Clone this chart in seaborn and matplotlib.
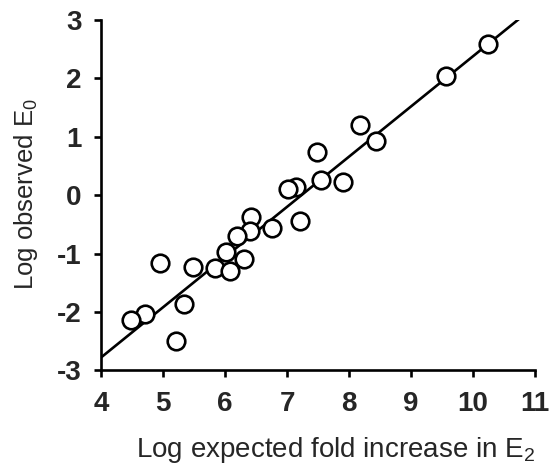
import numpy as np
import pandas as pd
import matplotlib
matplotlib.use("Agg")
import matplotlib.pyplot as plt
import seaborn as sns

# valores
expected_log = [10.24, 9.56, 8.18, 8.44, 7.48, 7.54, 7.90, 7.15, 7.02, 7.20,
                6.41, 6.40, 6.76, 6.19, 6.02, 6.30, 5.84, 6.07, 5.48, 4.95,
                5.33, 4.71, 4.48, 5.21]
observed_log = [2.59, 2.05, 1.20, 0.92, 0.74, 0.26, 0.23, 0.14, 0.10, -0.44,
                -0.38, -0.62, -0.56, -0.70, -0.98, -1.09, -1.24, -1.30, -1.23, -1.17,
                -1.87, -2.04, -2.14, -2.50]
fit_x = [4.0, 10.81]
fit_y = [-2.78, 3.08]
x_ticks = [4, 5, 6, 7, 8, 9, 10, 11]
y_ticks = [-3, -2, -1, 0, 1, 2, 3]

sns.set_style("ticks")
plt.rcParams['font.family'] = ['Liberation Sans', 'DejaVu Sans']
plt.rcParams['mathtext.default'] = 'regular'

df = pd.DataFrame({'x': expected_log, 'y': observed_log})
fit = pd.DataFrame({'x': fit_x, 'y': fit_y})

fig = plt.figure(figsize=(5.5, 4.68), dpi=100)
ax = fig.add_axes([0.184, 0.209, 0.789, 0.748])

sns.lineplot(data=fit, x='x', y='y', color='black', linewidth=1.9, ax=ax)
sns.scatterplot(data=df, x='x', y='y', ax=ax, s=160, facecolor='white',
                edgecolor='black', linewidth=1.9, zorder=3)

ax.set_xlim(4, 11)
ax.set_ylim(-3, 3)
ax.set_xticks(x_ticks)
ax.set_yticks(y_ticks)
ax.set_yticklabels([str(v) for v in y_ticks])
ax.tick_params(labelsize=20, width=1.9, length=5, color='black')
ax.tick_params(axis='x', pad=10)
ax.tick_params(axis='y', pad=9)
for lab in ax.get_xticklabels() + ax.get_yticklabels():
    lab.set_fontweight('bold')
sns.despine(ax=ax)
for s in ['left', 'bottom']:
    ax.spines[s].set_linewidth(1.9)
    ax.spines[s].set_color('black')

ax.set_xlabel('Log expected fold increase in E$_2$', fontsize=20)
ax.set_ylabel('Log observed E$_0$', fontsize=18.5)
ax.xaxis.set_label_coords(0.541, -0.185)
ax.yaxis.set_label_coords(-0.14, 0.503)

fig.savefig('out.png', dpi=100)
